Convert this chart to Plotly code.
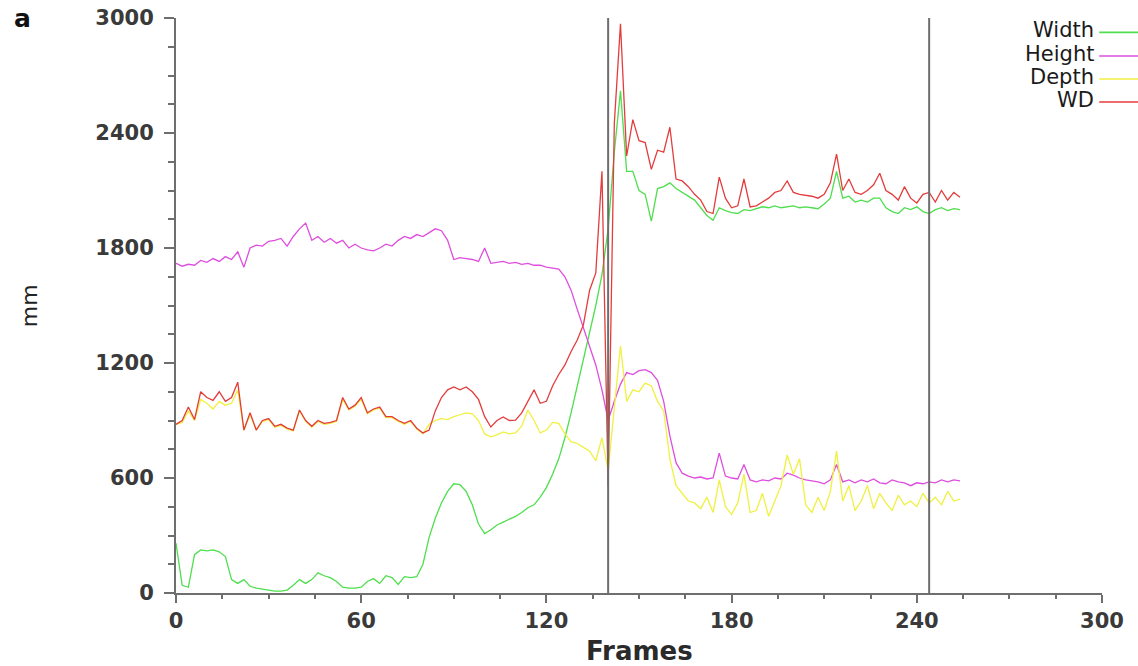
import plotly.graph_objects as go

FRAMES = list(range(0, 256, 2))

WIDTH = [260, 40, 30, 200, 225, 220, 225, 215, 190, 70,
         50, 70, 35, 25, 20, 15, 10, 10, 15, 40,
         70, 50, 70, 105, 90, 80, 60, 30, 25, 25,
         30, 60, 75, 50, 90, 80, 45, 85, 80, 85,
         150, 290, 390, 470, 530, 570, 565, 530, 460, 360,
         310, 330, 355, 370, 385, 400, 420, 445, 460, 500,
         550, 620, 700, 810, 940, 1080, 1230, 1370, 1500, 1660,
         1900, 2300, 2620, 2200, 2200, 2100, 2080, 1940, 2110, 2120,
         2140, 2110, 2090, 2070, 2050, 2010, 1970, 1945, 2010, 1995,
         1985, 1980, 2000, 1995, 2005, 2015, 2010, 2020, 2010, 2015,
         2020, 2010, 2015, 2010, 2005, 2030, 2060, 2200, 2060, 2070,
         2040, 2050, 2040, 2060, 2060, 2010, 1990, 1980, 2010, 2000,
         2015, 1990, 1980, 2000, 2010, 1995, 2005, 2000]

HEIGHT = [1720, 1705, 1715, 1710, 1735, 1725, 1745, 1730, 1755, 1740,
          1780, 1700, 1800, 1815, 1810, 1835, 1840, 1850, 1810, 1860,
          1900, 1930, 1840, 1860, 1830, 1850, 1825, 1840, 1800, 1820,
          1800, 1790, 1785, 1800, 1820, 1810, 1840, 1860, 1850, 1870,
          1860, 1880, 1900, 1890, 1840, 1740, 1750, 1745, 1740, 1730,
          1800, 1720, 1725, 1730, 1720, 1725, 1715, 1720, 1710, 1710,
          1700, 1695, 1690, 1650, 1580, 1480, 1380, 1290, 1190, 1060,
          900, 1000, 1090, 1150, 1140, 1160, 1165, 1150, 1110, 1000,
          820, 680, 625, 610, 600, 605, 595, 600, 730, 610,
          600, 595, 670, 590, 580, 590, 585, 600, 595, 625,
          615, 600, 590, 585, 580, 570, 590, 670, 580, 590,
          575, 590, 580, 595, 575, 570, 590, 580, 575, 560,
          575, 570, 580, 575, 590, 580, 590, 585]

DEPTH = [880, 890, 950, 900, 1010, 990, 960, 1000, 980, 990,
         1060, 850, 930, 850, 895, 905, 865, 875, 855, 845,
         950, 895, 865, 895, 880, 885, 895, 1010, 955, 975,
         1010, 935, 955, 965, 915, 915, 895, 880, 895, 855,
         830, 880, 900, 910, 905, 920, 930, 940, 935, 900,
         830, 815, 825, 840, 830, 835, 870, 955, 900, 835,
         850, 890, 885, 830, 790, 780, 760, 740, 690, 810,
         640, 980, 1290, 1000, 1060, 1050, 1095, 1080, 1000, 950,
         700, 560, 520, 480, 470, 440, 500, 420, 590, 450,
         410, 470, 620, 420, 430, 520, 400, 480, 560, 720,
         620, 700, 460, 420, 500, 430, 530, 740, 480, 560,
         430, 480, 560, 440, 520, 470, 430, 510, 460, 480,
         450, 520, 470, 500, 460, 530, 480, 490]

WD = [880, 900, 970, 905, 1050, 1020, 1005, 1050, 1000, 1020,
      1100, 850, 940, 850, 900, 910, 870, 880, 860, 850,
      955, 900, 870, 900, 885, 890, 900, 1020, 960, 980,
      1020, 940, 960, 970, 920, 920, 900, 885, 900, 860,
      835, 850, 950, 1020, 1060, 1075, 1060, 1075, 1050, 1010,
      920, 866, 900, 918, 900, 902, 940, 1000, 1060, 990,
      1000, 1080, 1140, 1190, 1260, 1320, 1400, 1580, 1670, 2200,
      560, 2450, 2970, 2280, 2470, 2360, 2350, 2210, 2310, 2300,
      2430, 2160, 2150, 2120, 2080, 2050, 1990, 1980, 2170, 2060,
      2010, 2020, 2160, 2014, 2020, 2040, 2060, 2090, 2100, 2150,
      2090, 2080, 2075, 2070, 2060, 2080, 2140, 2290, 2100, 2160,
      2090, 2080, 2100, 2130, 2190, 2100, 2080, 2050, 2120, 2060,
      2035, 2080, 2090, 2040, 2100, 2050, 2090, 2065]

SERIES_NAMES = ["Width", "Height", "Depth", "WD"]
SERIES_VALUES = [WIDTH, HEIGHT, DEPTH, WD]
COLORS = ["#4ede4e", "#de4ede", "#f0f040", "#e43c3c"]
EVENT_FRAMES = [140, 244]

X_TICKS = [0, 60, 120, 180, 240, 300]
Y_TICKS = [0, 600, 1200, 1800, 2400, 3000]

FONT = "DejaVu Sans, Arial, sans-serif"

fig = go.Figure()
for name, vals, col in zip(SERIES_NAMES, SERIES_VALUES, COLORS):
    fig.add_trace(go.Scatter(x=FRAMES, y=vals, mode="lines", name=name,
                             line=dict(color=col, width=1.3), showlegend=False))

for f in EVENT_FRAMES:
    fig.add_shape(type="line", xref="x", yref="y", x0=f, x1=f, y0=0, y1=3000,
                  line=dict(color="#6e6e6e", width=2))

# Legend (text on the left, line on the right)
leg_y = [0.979, 0.938, 0.898, 0.858]
for name, col, yy in zip(SERIES_NAMES, COLORS, leg_y):
    fig.add_annotation(xref="paper", yref="paper", x=0.993, y=yy, text=name,
                       showarrow=False, xanchor="right", yanchor="middle",
                       font=dict(family=FONT, size=21, color="#1a1a1a"))
    fig.add_shape(type="line", xref="paper", yref="paper", x0=0.997, x1=1.04,
                  y0=yy - 0.004, y1=yy - 0.004, line=dict(color=col, width=1.6))

fig.add_annotation(xref="paper", yref="paper", x=-0.166, y=1.0278, text="<b>a</b>",
                   showarrow=False, xanchor="center", yanchor="top",
                   font=dict(family=FONT, size=25, color="#111111"))
fig.add_annotation(xref="paper", yref="paper", x=-0.158, y=0.5, text="mm",
                   showarrow=False, textangle=-90, xanchor="center", yanchor="middle",
                   font=dict(family=FONT, size=22, color="#222222"))
fig.add_annotation(xref="paper", yref="paper", x=0.5, y=-0.1, text="<b>Frames</b>",
                   showarrow=False, xanchor="center", yanchor="middle",
                   font=dict(family=FONT, size=26, color="#2a2a2a"))

axis_font = dict(family=FONT, size=21, color="#3a3a3a")
fig.update_xaxes(range=[0, 300], tickvals=X_TICKS, ticktext=[f"<b>{t}</b>" for t in X_TICKS],
                 showgrid=False, zeroline=False, showline=True, linecolor="#6e6e6e", linewidth=2,
                 ticks="outside", ticklen=8, tickwidth=1.5, tickcolor="#6e6e6e",
                 minor=dict(dtick=15, ticks="outside", ticklen=4, tickcolor="#6e6e6e", showgrid=False),
                 tickfont=axis_font, automargin=False)
fig.update_yaxes(range=[0, 3000], tickvals=Y_TICKS, ticktext=[f"<b>{t}</b>" for t in Y_TICKS],
                 showgrid=False, zeroline=False, showline=True, linecolor="#6e6e6e", linewidth=2,
                 ticks="outside", ticklen=10, tickwidth=1.5, tickcolor="#6e6e6e",
                 minor=dict(dtick=150, ticks="outside", ticklen=6, tickcolor="#6e6e6e", showgrid=False),
                 tickfont=axis_font, ticklabelstandoff=6, automargin=False)

fig.update_layout(width=1138, height=666, plot_bgcolor="white", paper_bgcolor="white",
                  margin=dict(l=176, r=36, t=18, b=73), showlegend=False)

# Remove the default page margin so the figure sits at the window's top-left corner.
fig.write_html("out.html", config={"displayModeBar": False},
               post_script="document.body.style.margin='0';document.body.style.overflow='hidden';")
